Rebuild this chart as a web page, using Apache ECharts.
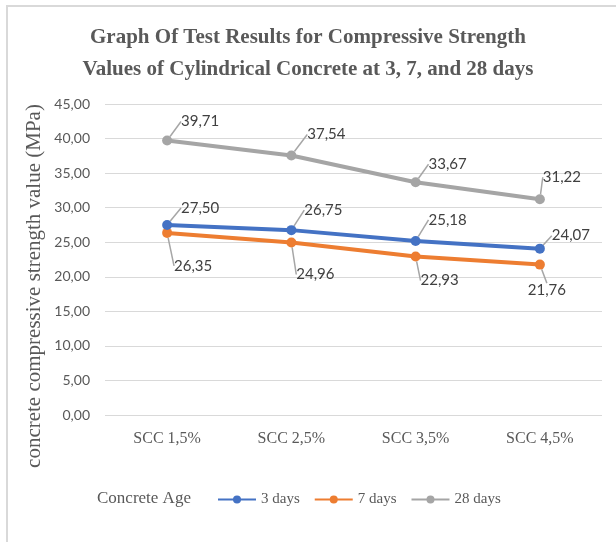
<!DOCTYPE html>
<html>
<head>
<meta charset="utf-8">
<script src="https://cdn.jsdelivr.net/npm/echarts@6/dist/echarts.min.js"></script>
<style>
  html, body { margin: 0; padding: 0; background: #fff; }
  #chart { width: 616px; height: 542px; }
</style>
</head>
<body>
<div id="chart"></div>
<script>
const categories = ["SCC 1,5%", "SCC 2,5%", "SCC 3,5%", "SCC 4,5%"];
const seriesNames = ["3 days", "7 days", "28 days"];
const days3 = [27.50, 26.75, 25.18, 24.07];
const days7 = [26.35, 24.96, 22.93, 21.76];
const days28 = [39.71, 37.54, 33.67, 31.22];

// label offsets from each point (px), per series
const labelOffsets = [
  [[33, -17], [32, -20], [32, -21], [31, -13]],
  [[26, 33], [24, 32], [24, 24], [7, 26]],
  [[33, -19], [35, -21], [32, -18], [22, -22]],
];

const colors = ["#4472C4", "#ED7D31", "#A5A5A5"];
const serif = "'Liberation Serif', 'DejaVu Serif', serif";
const sans = "Lato, 'Noto Sans', sans-serif";

const chart = echarts.init(document.getElementById("chart"));

function makeSeries(name, data, idx) {
  return {
    name: name,
    type: "line",
    data: data,
    symbol: "circle",
    symbolSize: 10,
    lineStyle: { width: 4, color: colors[idx] },
    itemStyle: { color: colors[idx] },
    label: {
      show: true,
      position: "inside",
      color: "#404040",
      fontFamily: sans,
      fontSize: 15,
      formatter: (p) => p.value.toFixed(2).replace(".", ","),
    },
    labelLine: {
      show: true,
      lineStyle: { color: "#A6A6A6", width: 1.5 },
    },
    labelLayout: (p) => ({
      dx: labelOffsets[idx][p.dataIndex][0],
      dy: labelOffsets[idx][p.dataIndex][1],
    }),
    z: 3 - idx,
  };
}

const option = {
  animation: false,
  color: colors,
  title: [
    {
      text: "Graph Of Test Results for Compressive Strength\nValues of Cylindrical Concrete at 3, 7, and 28 days",
      left: "center",
      top: 17,
      textStyle: {
        fontFamily: serif,
        fontWeight: "bold",
        fontSize: 21,
        lineHeight: 32,
        color: "#595959",
      },
    },
    {
      text: "Concrete Age",
      left: 92,
      top: 485,
      textStyle: {
        fontFamily: serif,
        fontWeight: "normal",
        fontSize: 17,
        color: "#595959",
      },
    },
  ],
  legend: {
    data: seriesNames,
    left: 212,
    top: 487,
    itemWidth: 38,
    itemHeight: 10,
    itemGap: 14,
    textStyle: { fontFamily: serif, fontSize: 15, color: "#595959" },
  },
  grid: { left: 105, right: 14, top: 104, bottom: 127 },
  xAxis: {
    type: "category",
    data: categories,
    boundaryGap: true,
    axisLine: { show: false },
    axisTick: { show: false },
    axisLabel: { fontFamily: serif, fontSize: 16, color: "#595959", margin: 16 },
  },
  yAxis: {
    type: "value",
    min: 0,
    max: 45,
    interval: 5,
    axisLine: { show: false },
    axisTick: { show: false },
    axisLabel: {
      fontFamily: sans,
      fontSize: 14,
      color: "#595959",
      margin: 15,
      formatter: (v) => v.toFixed(2).replace(".", ","),
    },
    splitLine: { lineStyle: { color: "#D9D9D9", width: 1 } },
  },
  graphic: [
    {
      type: "rect",
      shape: { x: 7, y: 6, width: 620, height: 560 },
      style: { fill: "none", stroke: "#D9D9D9", lineWidth: 2 },
      silent: true,
    },
    {
      type: "text",
      x: 34,
      y: 286,
      rotation: Math.PI / 2,
      style: {
        text: "concrete compressive strength value (MPa)",
        fontFamily: serif,
        fontSize: 21,
        fill: "#595959",
        align: "center",
        verticalAlign: "middle",
      },
    },
  ],
  series: [
    makeSeries(seriesNames[0], days3, 0),
    makeSeries(seriesNames[1], days7, 1),
    makeSeries(seriesNames[2], days28, 2),
  ],
};

chart.setOption(option);
</script>
</body>
</html>
